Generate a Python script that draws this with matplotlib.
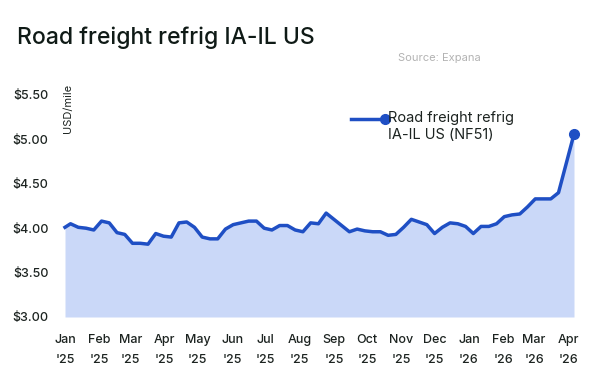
import matplotlib
matplotlib.use("Agg")
import matplotlib.pyplot as plt
import numpy as np
import pandas as pd

plt.rcParams['font.family'] = ['Inter', 'DejaVu Sans']

title = "Road freight refrig IA-IL US"
source = "Source: Expana"
series_name = "Road freight refrig\nIA-IL US (NF51)"
unit_label = "USD/mile"

# weekly observations (first point = start of range)
dates = (["2025-01-01"]
         + [d.strftime("%Y-%m-%d") for d in pd.date_range("2025-01-06", "2026-03-23", freq="7D")]
         + ["2026-04-06"])
values = [4.01,
          4.05, 4.01, 4.00, 3.98, 4.08, 4.06, 3.95, 3.93, 3.83, 3.83,
          3.82, 3.94, 3.91, 3.90, 4.06, 4.07, 4.01, 3.90, 3.88, 3.88,
          3.99, 4.04, 4.06, 4.08, 4.08, 4.00, 3.98, 4.03, 4.03, 3.98,
          3.96, 4.06, 4.05, 4.17, 4.10, 4.03, 3.96, 3.99, 3.97, 3.96,
          3.96, 3.92, 3.93, 4.01, 4.10, 4.07, 4.04, 3.94, 4.01, 4.06,
          4.05, 4.02, 3.94, 4.02, 4.02, 4.05, 4.13, 4.15, 4.16, 4.24,
          4.33, 4.33, 4.33, 4.40,
          5.06]
month_ticks = ["2025-01-01", "2025-02-01", "2025-03-01", "2025-04-01", "2025-05-01",
               "2025-06-01", "2025-07-01", "2025-08-01", "2025-09-01", "2025-10-01",
               "2025-11-01", "2025-12-01", "2026-01-01", "2026-02-01", "2026-03-01",
               "2026-04-01"]
month_labels = ["Jan\n'25", "Feb\n'25", "Mar\n'25", "Apr\n'25", "May\n'25", "Jun\n'25",
                "Jul\n'25", "Aug\n'25", "Sep\n'25", "Oct\n'25", "Nov\n'25", "Dec\n'25",
                "Jan\n'26", "Feb\n'26", "Mar\n'26", "Apr\n'26"]
y_ticks = [3.0, 3.5, 4.0, 4.5, 5.0, 5.5]

x = pd.to_datetime(dates)
y = np.array(values)

W, H = 600, 376
fig = plt.figure(figsize=(6, 3.76), dpi=100)
ax = fig.add_axes([65 / W, (H - 317) / H, (574 - 65) / W, (317 - 95) / H])

line_col = "#1f4fc4"
fill_col = "#cad8f8"
text_col = "#1c2320"

ax.fill_between(x, y, 3.0, color=fill_col, lw=0, zorder=1)
ax.plot(x, y, color=line_col, lw=2.5, solid_joinstyle='round', zorder=3, clip_on=False)
ax.plot(x[-1:], y[-1:], 'o', color=line_col, ms=7, zorder=4, clip_on=False)

ax.set_xlim(x[0], x[-1])
ax.set_ylim(3.0, 5.5)
for s in ax.spines.values():
    s.set_visible(False)

ax.set_yticks(y_ticks)
ax.set_yticklabels([f"${v:.2f}" for v in y_ticks], fontweight='medium')
ax.set_xticks(pd.to_datetime(month_ticks))
ax.set_xticklabels(month_labels, linespacing=1.9, fontweight='medium')
ax.tick_params(axis='y', length=0, pad=12, labelsize=9, labelcolor=text_col)
ax.tick_params(axis='x', length=0, pad=12, labelsize=9, labelcolor=text_col)

fig.text(68 / W, 1 - 84 / H, unit_label, rotation=90, ha='center', va='top',
         fontsize=8, color=text_col)

fig.text(17 / W, 1 - 44 / H, title, ha='left', va='baseline', fontsize=16.5,
         fontweight='medium', color="#0f1a16")
fig.text(398 / W, 1 - 58 / H, source, ha='left', va='center', fontsize=8,
         color="#b3b3b3")

# legend
lx0, lx1, ly = 351, 385, 119
fig.add_artist(plt.Line2D([lx0 / W, lx1 / W], [1 - ly / H, 1 - ly / H], color=line_col,
                          lw=2.5, transform=fig.transFigure))
fig.add_artist(plt.Line2D([lx1 / W], [1 - ly / H], marker='o', ms=7, color=line_col,
                          transform=fig.transFigure))
fig.text(388 / W, 1 - 111 / H, series_name, ha='left', va='top', fontsize=10.5,
         color=text_col, linespacing=1.25)

fig.savefig("out.png", dpi=100)
